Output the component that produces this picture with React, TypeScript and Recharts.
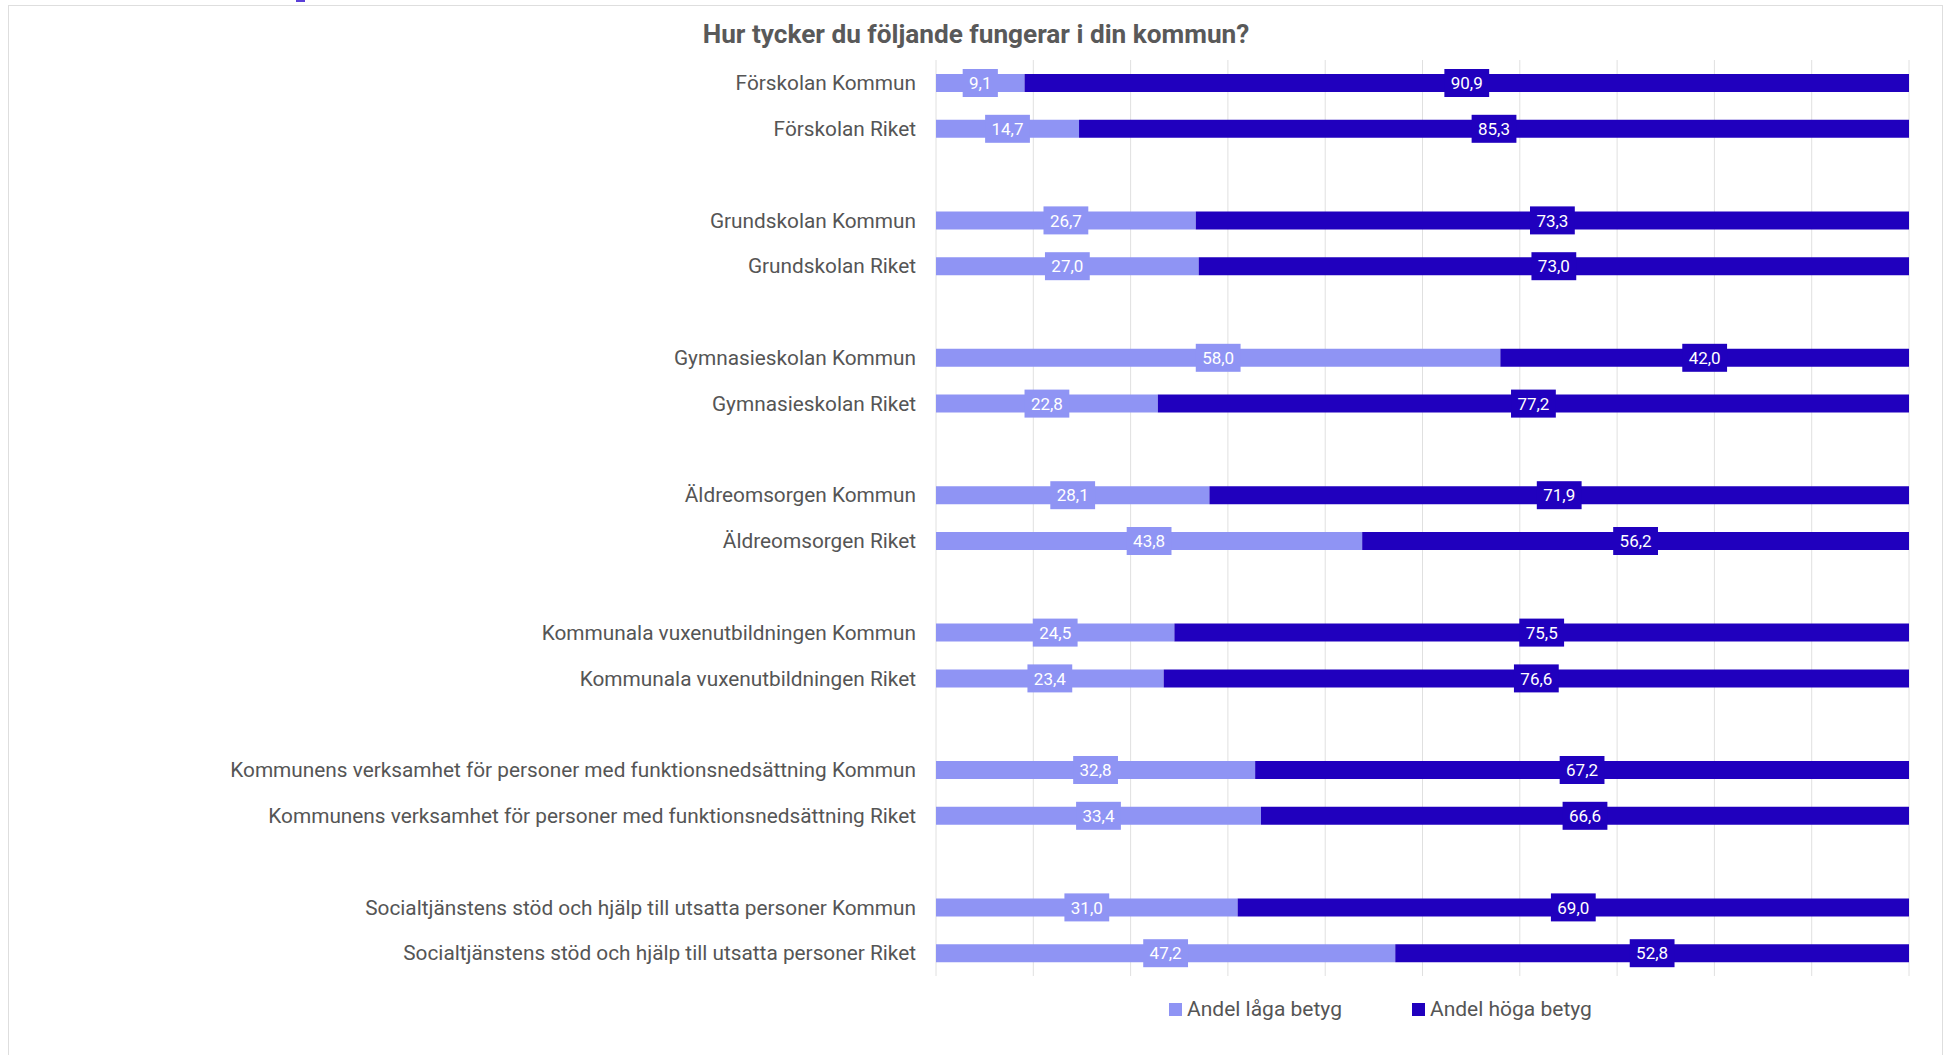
import React from "react"
import { BarChart, Bar, XAxis, YAxis, CartesianGrid, LabelList } from "recharts"

const categories = [
  "Förskolan Kommun",
  "Förskolan Riket",
  "",
  "Grundskolan Kommun",
  "Grundskolan Riket",
  "",
  "Gymnasieskolan Kommun",
  "Gymnasieskolan Riket",
  "",
  "Äldreomsorgen Kommun",
  "Äldreomsorgen Riket",
  "",
  "Kommunala vuxenutbildningen Kommun",
  "Kommunala vuxenutbildningen Riket",
  "",
  "Kommunens verksamhet för personer med funktionsnedsättning Kommun",
  "Kommunens verksamhet för personer med funktionsnedsättning Riket",
  "",
  "Socialtjänstens stöd och hjälp till utsatta personer Kommun",
  "Socialtjänstens stöd och hjälp till utsatta personer Riket",
]

const lowShare = [9.1, 14.7, null, 26.7, 27.0, null, 58.0, 22.8, null, 28.1, 43.8, null, 24.5, 23.4, null, 32.8, 33.4, null, 31.0, 47.2]
const highShare = [90.9, 85.3, null, 73.3, 73.0, null, 42.0, 77.2, null, 71.9, 56.2, null, 75.5, 76.6, null, 67.2, 66.6, null, 69.0, 52.8]

const xTicks = [0, 10, 20, 30, 40, 50, 60, 70, 80, 90, 100]

const seriesNames = ["Andel låga betyg", "Andel höga betyg"]
const LOW = "#8F94F4"
const HIGH = "#2000BE"
const FONT = "Roboto, 'Noto Sans', sans-serif"

const data = categories.map((name, i) => ({
  key: `row${i}`,
  name,
  low: lowShare[i],
  high: highShare[i],
}))

const fmt = (v: number) => v.toFixed(1).replace(".", ",")

const makeLabel = (fill: string) => (props: any) => {
  const { x, y, width, height, value } = props
  if (value == null) return null
  const text = fmt(Number(value))
  let tw = 0
  for (const ch of text) tw += ch === "," ? 4 : 9.6
  const w = tw + 12
  const cx = Number(x) + Number(width) / 2
  const cy = Number(y) + Number(height) / 2
  return (
    <g>
      <rect x={cx - w / 2} y={cy - 14} width={w} height={28} fill={fill} />
      <text x={cx} y={cy} dy="0.36em" textAnchor="middle" fill="#fff" fontSize={17} fontFamily={FONT}>
        {text}
      </text>
    </g>
  )
}

export default function App() {
  return (
    <div style={{ position: "absolute", left: 0, top: 0, width: 1951, height: 1055, overflow: "hidden", background: "#fff" }}>
      {/* cut-off bit of something above the chart */}
      <div style={{ position: "absolute", left: 296, top: 0, width: 9, height: 2, background: "#5a3fd8" }} />
      <div
        style={{
          position: "absolute",
          left: 8,
          top: 5,
          width: 1935,
          height: 1080,
          border: "1px solid #dedede",
          boxSizing: "border-box",
        }}
      />
      <div
        style={{
          position: "absolute",
          left: 8,
          top: 19,
          width: 1936,
          textAlign: "center",
          fontFamily: FONT,
          fontSize: 26.2,
          fontWeight: "bold",
          color: "#595959",
        }}
      >
        Hur tycker du följande fungerar i din kommun?
      </div>
      <div style={{ position: "absolute", left: 0, top: 1 }}>
        <BarChart
          width={1951}
          height={1054}
          data={data}
          layout="vertical"
          margin={{ top: 59, right: 42, left: 0, bottom: 79 }}
          barSize={18}
        >
          <CartesianGrid horizontal={false} stroke="#e0e0e0" />
          <XAxis type="number" domain={[0, 100]} ticks={xTicks} hide />
          <YAxis
            type="category"
            dataKey="key"
            width={936}
            axisLine={false}
            tickLine={false}
            tickSize={0}
            tickMargin={20}
            interval={0}
            tickFormatter={(v: string) => categories[Number(String(v).replace("row", ""))]}
            tick={{ fontSize: 20.8, fill: "#555", fontFamily: FONT }}
          />
          <Bar dataKey="low" name={seriesNames[0]} stackId="a" fill={LOW} isAnimationActive={false}>
            <LabelList dataKey="low" content={makeLabel(LOW)} />
          </Bar>
          <Bar dataKey="high" name={seriesNames[1]} stackId="a" fill={HIGH} isAnimationActive={false}>
            <LabelList dataKey="high" content={makeLabel(HIGH)} />
          </Bar>
        </BarChart>
      </div>
      <div
        style={{
          position: "absolute",
          left: 1169,
          top: 997,
          display: "flex",
          fontFamily: FONT,
          fontSize: 21,
          color: "#555",
        }}
      >
        {seriesNames.map((n, i) => (
          <div key={n} style={{ display: "flex", alignItems: "center", marginRight: i === 0 ? 70 : 0 }}>
            <span style={{ width: 13, height: 13, background: i === 0 ? LOW : HIGH, display: "inline-block", marginRight: 5 }} />
            <span>{n}</span>
          </div>
        ))}
      </div>
    </div>
  )
}
